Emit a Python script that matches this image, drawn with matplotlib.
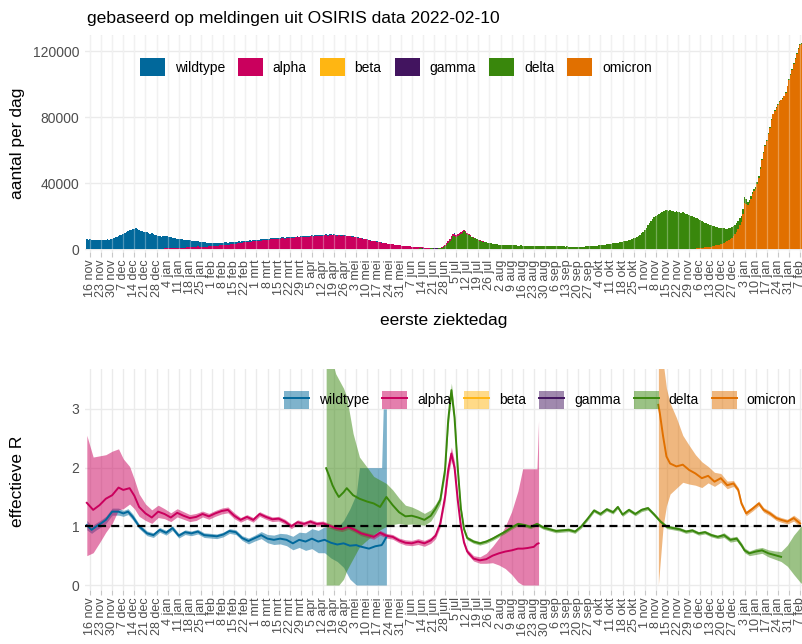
import numpy as np
import pandas as pd
import matplotlib
matplotlib.use('Agg')
import matplotlib.pyplot as plt
from matplotlib.patches import Patch
from matplotlib.lines import Line2D

plt.rcParams['font.family'] = ['Liberation Sans', 'DejaVu Sans']

#==============================================================================
# data (dag 0 = 14 nov 2020)

start = pd.Timestamp('2020-11-14')
maanden = ['jan', 'feb', 'mrt', 'apr', 'mei', 'jun', 'jul', 'aug', 'sep', 'okt', 'nov', 'dec']
varianten = ['wildtype', 'alpha', 'beta', 'gamma', 'delta', 'omicron']
kleuren = {'wildtype': '#01689b', 'alpha': '#ca005d', 'beta': '#ffb612',
           'gamma': '#42145f', 'delta': '#39870c', 'omicron': '#e17000'}

# aantal per dag (x1000), per week een rij
totaal = [
    5.9, 5.7, 5.8, 5.6, 5.5, 5.7, 5.6,
    5.4, 5.5, 5.6, 5.5, 5.7, 5.6, 5.8,
    5.7, 5.9, 6.2, 6.6, 7.1, 7.5, 7.9,
    8.2, 8.6, 9.3, 9.8, 10.4, 10.9, 11.3,
    11.6, 11.9, 12.3, 12.5, 12.1, 11.8, 11.2,
    10.7, 10.3, 10.6, 10.1, 9.7, 9.2, 9.8,
    9.1, 8.7, 8.3, 8.0, 7.6, 7.3, 7.6,
    7.8, 7.9, 7.6, 7.3, 7.0, 6.8, 6.6,
    6.5, 6.3, 6.2, 6.0, 5.8, 5.7, 5.6,
    5.5, 5.4, 5.2, 5.1, 5.0, 4.8, 4.7,
    4.6, 4.5, 4.4, 4.2, 4.1, 4.0, 3.9,
    3.8, 3.7, 3.8, 3.6, 3.7, 3.5, 3.6,
    3.7, 3.9, 3.8, 4.0, 4.1, 3.9, 4.2,
    4.1, 4.3, 4.4, 4.2, 4.5, 4.6, 4.5,
    4.7, 4.8, 4.9, 4.8, 5.0, 5.2, 5.1,
    5.3, 5.4, 5.5, 5.4, 5.7, 5.8, 5.9,
    6.0, 6.2, 6.3, 6.1, 6.4, 6.6, 6.5,
    6.7, 6.8, 6.9, 6.7, 7.0, 7.1, 6.9,
    7.1, 7.2, 7.0, 7.3, 7.4, 7.2, 7.5,
    7.6, 7.5, 7.7, 7.8, 7.6, 7.9, 8.0,
    7.8, 8.1, 8.2, 8.0, 8.3, 8.4, 8.2,
    8.5, 8.6, 8.4, 8.7, 8.8, 8.6, 8.9,
    8.8, 8.7, 8.9, 8.6, 8.5, 8.7, 8.4,
    8.3, 8.5, 8.2, 8.0, 8.1, 7.9, 7.7,
    7.6, 7.4, 7.2, 7.0, 6.9, 6.6, 6.4,
    6.2, 6.0, 5.8, 5.5, 5.3, 5.1, 4.9,
    4.8, 4.6, 4.4, 4.2, 4.0, 3.8, 3.6,
    3.5, 3.3, 3.2, 3.0, 2.9, 2.7, 2.6,
    2.5, 2.4, 2.2, 2.1, 2.0, 1.9, 1.8,
    1.7, 1.6, 1.5, 1.4, 1.3, 1.3, 1.2,
    1.1, 1.1, 1.0, 0.9, 0.9, 0.8, 0.8,
    0.7, 0.7, 0.6, 0.6, 0.6, 0.7, 0.8,
    1.1, 1.6, 2.3, 3.4, 4.8, 6.3, 7.8,
    9.0, 9.4, 8.7, 8.9, 9.8, 10.6, 11.2,
    11.4, 10.8, 9.9, 9.0, 8.2, 7.5, 7.0,
    6.5, 6.0, 5.6, 5.2, 4.9, 4.6, 4.3,
    4.0, 3.8, 3.6, 3.4, 3.2, 3.1, 2.9,
    2.8, 2.7, 2.6, 2.5, 2.5, 2.4, 2.4,
    2.3, 2.3, 2.2, 2.2, 2.3, 2.2, 2.1,
    2.1, 2.2, 2.1, 2.0, 2.1, 2.0, 2.1,
    2.0, 2.1, 2.0, 2.0, 1.9, 2.0, 1.9,
    1.9, 2.0, 1.9, 1.8, 1.9, 1.8, 1.8,
    1.7, 1.8, 1.7, 1.7, 1.6, 1.7, 1.6,
    1.6, 1.5, 1.6, 1.5, 1.5, 1.4, 1.5,
    1.4, 1.4, 1.5, 1.4, 1.4, 1.5, 1.5,
    1.6, 1.6, 1.7, 1.8, 1.8, 1.9, 2.0,
    2.1, 2.2, 2.3, 2.4, 2.5, 2.7, 2.8,
    2.9, 3.1, 3.2, 3.4, 3.5, 3.7, 3.9,
    4.1, 4.3, 4.4, 4.6, 4.9, 5.1, 5.4,
    5.7, 6.0, 6.4, 6.8, 7.3, 7.9, 8.6,
    9.5, 10.6, 11.8, 13.0, 14.3, 15.6, 16.9,
    18.0, 19.1, 20.0, 20.8, 21.5, 22.1, 22.6,
    23.0, 23.5, 23.7, 23.2, 23.4, 22.9, 23.1,
    22.7, 22.9, 22.4, 22.6, 22.1, 22.3, 21.8,
    21.5, 21.2, 20.8, 20.3, 19.9, 19.4, 18.9,
    18.5, 18.2, 17.7, 17.1, 16.6, 16.0, 15.5,
    15.1, 14.8, 14.5, 14.2, 13.9, 13.5, 13.2,
    13.0, 12.8, 12.6, 12.5, 12.4, 12.3, 12.5,
    12.7, 13.1, 13.8, 14.6, 15.5, 17.0, 18.8,
    19.8, 24.5, 31.5, 30.2, 28.4, 29.6, 32.0,
    34.5, 36.4, 37.8, 40.5, 44.0, 49.5, 54.5,
    59.0, 63.0, 66.0, 70.5, 74.0, 78.5, 82.0,
    84.0, 86.0, 88.0, 89.5, 90.5, 91.5, 93.0,
    95.0, 99.0, 103.0, 106.0, 109.0, 112.5, 115.5,
    118.5, 122.0, 124.0, 125.0, 120.5,
]

# aandeel per week (%), week k = dag 7k .. 7k+6
aandeel_alpha = [0, 0, 0, 0, 0.5, 1, 2, 5, 10, 20, 33, 48, 62, 74, 82, 86,
                 88, 90, 91, 91, 92, 93, 93, 94, 94, 94, 93, 91, 87, 80.5, 66, 47.5,
                 23, 12.5, 5.5, 2, 1, 0.5] + [0] * 27
aandeel_beta = [0] * 10 + [0.5, 1, 1, 1, 1.5, 1.5, 1.5, 1.5, 1, 1, 1, 1, 1, 1, 1, 0.5,
                           0.5, 0.5, 0.5, 0.5, 0.5] + [0] * 34
aandeel_gamma = [0] * 16 + [0.5, 0.5, 1, 1, 1, 1, 1.5, 1.5, 1.5, 1.5, 1.5, 1.5, 1.5, 1.5,
                            1.5, 1, 1, 0.5, 0.5] + [0] * 30
aandeel_delta = [0] * 24 + [0.5, 1, 2, 4, 8, 15, 30, 50, 75, 86, 94, 98, 99,
                            99.5] + [100] * 27
# aandeel omicron per dag (%) vanaf dag 378 (27 nov 2021)
omicron_start = 378
aandeel_omicron = [
    0, 0, 0.5, 0.5, 1, 1, 1.5,
    2, 2.5, 3, 4, 5, 6, 7,
    8, 9, 10, 12, 14, 16, 18,
    20, 23, 26, 30, 34, 38, 42,
    47, 52, 57, 62, 67, 72, 77,
    82, 86, 89, 91, 93, 94, 95,
    96, 96.5, 97, 97.5, 98, 98.3, 98.6,
    98.8, 99, 99, 99.2, 99.3, 99.4, 99.5,
    99.5, 99.5, 99.5, 99.5, 99.5, 99.5, 99.5,
    99.5, 99.5, 99.5, 99.5, 99.5, 99.5, 99.5,
    99.5, 99.5, 99.5, 99.5, 99.5,
]

# effectieve R per variant: dag, R, ondergrens, bovengrens
wt_dag = [0, 3, 6, 9, 12, 16, 20, 23, 26, 29, 33, 38, 42, 46, 50, 54, 58, 62, 66, 70,
          74, 78, 82, 86, 90, 94, 98, 102, 106, 110, 114, 118, 122, 126, 130, 134, 138,
          142, 146, 150, 154, 158, 162, 166, 170, 172, 178, 182, 186, 187, 189]
wt_r = [1.02, 0.94, 1.00, 1.05, 1.11, 1.25, 1.25, 1.22, 1.25, 1.16, 1.00, 0.88, 0.85,
        0.94, 0.89, 0.97, 0.84, 0.90, 0.88, 0.91, 0.85, 0.84, 0.83, 0.86, 0.92, 0.90,
        0.80, 0.75, 0.80, 0.85, 0.79, 0.77, 0.79, 0.77, 0.71, 0.77, 0.74, 0.79, 0.74,
        0.77, 0.72, 0.69, 0.71, 0.67, 0.68, 0.66, 0.62, 0.66, 0.68, 0.72, 0.82]
wt_lo = [0.94, 0.88, 0.94, 0.99, 1.05, 1.19, 1.19, 1.17, 1.20, 1.11, 0.96, 0.84, 0.81,
         0.90, 0.85, 0.93, 0.80, 0.86, 0.84, 0.87, 0.81, 0.80, 0.79, 0.82, 0.88, 0.86,
         0.76, 0.70, 0.75, 0.79, 0.72, 0.69, 0.70, 0.67, 0.60, 0.64, 0.59, 0.62, 0.55,
         0.55, 0.46, 0.40, 0.30, 0.10, 0.0, 0.0, 0.0, 0.0, 0.0, 0.0, 0.0]
wt_hi = [1.10, 1.01, 1.06, 1.11, 1.17, 1.31, 1.31, 1.27, 1.30, 1.21, 1.04, 0.92, 0.89,
         0.98, 0.93, 1.01, 0.88, 0.94, 0.92, 0.95, 0.89, 0.88, 0.87, 0.90, 0.96, 0.94,
         0.84, 0.80, 0.85, 0.91, 0.86, 0.85, 0.88, 0.87, 0.83, 0.90, 0.89, 0.96, 0.93,
         0.99, 0.98, 0.98, 1.10, 1.30, 1.55, 2.00, 2.00, 2.00, 2.00, 3.00, 3.00]

alpha_dag = [0, 4, 8, 12, 16, 20, 23, 27, 30, 33, 37, 41, 45, 49, 53, 57, 61, 65, 69, 73,
             77, 81, 85, 89, 93, 97, 101, 105, 109, 113, 117, 121, 125, 129, 133, 137, 141,
             145, 149, 153, 157, 161, 165, 169, 173, 177, 181, 185, 189, 193, 197, 201, 205,
             209, 213, 217, 220, 223, 226, 228, 230, 232, 234, 236, 238, 240, 244, 248, 252,
             256, 260, 264, 268, 272, 275, 278, 282, 284, 285]
alpha_r = [1.40, 1.28, 1.36, 1.47, 1.53, 1.66, 1.62, 1.65, 1.52, 1.33, 1.22, 1.15, 1.25,
           1.21, 1.15, 1.23, 1.18, 1.14, 1.16, 1.21, 1.17, 1.22, 1.26, 1.28, 1.18, 1.11,
           1.16, 1.11, 1.21, 1.16, 1.12, 1.13, 1.08, 1.00, 1.07, 1.04, 1.08, 1.04, 1.05,
           1.01, 0.97, 0.95, 0.99, 0.94, 0.88, 0.85, 0.82, 0.89, 0.84, 0.82, 0.76, 0.72,
           0.71, 0.74, 0.71, 0.76, 0.84, 1.05, 1.50, 1.96, 2.24, 2.00, 1.45, 1.00, 0.72,
           0.57, 0.45, 0.42, 0.44, 0.50, 0.54, 0.57, 0.59, 0.62, 0.62, 0.63, 0.65, 0.70, 0.71]
alpha_lo = [0.50, 0.55, 0.72, 0.90, 1.05, 1.28, 1.30, 1.38, 1.30, 1.17, 1.10, 1.05, 1.15,
            1.13, 1.08, 1.16, 1.12, 1.08, 1.10, 1.16, 1.12, 1.17, 1.21, 1.23, 1.13, 1.07,
            1.12, 1.07, 1.17, 1.12, 1.08, 1.09, 1.04, 0.96, 1.03, 1.00, 1.04, 1.00, 1.01,
            0.97, 0.93, 0.91, 0.95, 0.90, 0.84, 0.81, 0.78, 0.85, 0.80, 0.78, 0.72, 0.68,
            0.67, 0.69, 0.66, 0.71, 0.79, 0.99, 1.42, 1.86, 2.13, 1.90, 1.38, 0.95, 0.68,
            0.53, 0.41, 0.37, 0.37, 0.38, 0.34, 0.28, 0.18, 0.05, 0.0, 0.0, 0.0, 0.0, 0.0]
alpha_hi = [2.55, 2.18, 2.20, 2.22, 2.28, 2.32, 2.15, 2.02, 1.80, 1.55, 1.38, 1.28, 1.36,
            1.30, 1.23, 1.30, 1.25, 1.20, 1.22, 1.26, 1.22, 1.27, 1.31, 1.33, 1.23, 1.15,
            1.20, 1.15, 1.25, 1.20, 1.16, 1.17, 1.12, 1.04, 1.11, 1.08, 1.12, 1.08, 1.09,
            1.05, 1.01, 0.99, 1.03, 0.98, 0.92, 0.89, 0.86, 0.93, 0.88, 0.86, 0.80, 0.77,
            0.76, 0.79, 0.76, 0.81, 0.89, 1.12, 1.58, 2.06, 2.35, 2.10, 1.53, 1.06, 0.77,
            0.61, 0.50, 0.48, 0.54, 0.66, 0.80, 1.00, 1.25, 1.60, 1.98, 1.98, 1.98, 1.98, 2.80]

delta_dag = [151, 153, 155, 157, 159, 162, 164, 168, 172, 177, 181, 185, 189, 193, 197, 201,
             205, 209, 213, 217, 220, 223, 226, 228, 230, 232, 234, 236, 238, 240, 244, 248,
             252, 256, 260, 264, 268, 272, 276, 280, 284, 288, 292, 296, 300, 304, 308, 312,
             316, 320, 324, 328, 332, 335, 338, 342, 346, 350, 354, 358, 362, 366, 370, 374,
             378, 382, 386, 390, 394, 398, 402, 406, 410, 413, 415, 418, 422, 426, 430, 434,
             438, 442, 446, 450, 452]
delta_r = [1.99, 1.85, 1.70, 1.59, 1.50, 1.58, 1.65, 1.53, 1.47, 1.42, 1.39, 1.33, 1.50,
           1.36, 1.24, 1.17, 1.18, 1.15, 1.11, 1.18, 1.30, 1.45, 1.96, 2.81, 3.32, 2.85,
           2.00, 1.30, 0.95, 0.80, 0.74, 0.71, 0.74, 0.79, 0.85, 0.91, 0.98, 1.04, 1.02,
           0.99, 1.04, 0.98, 0.95, 0.92, 0.93, 0.94, 0.91, 1.00, 1.13, 1.27, 1.21, 1.29,
           1.24, 1.33, 1.20, 1.28, 1.21, 1.28, 1.31, 1.20, 1.08, 0.99, 0.97, 0.95, 0.91,
           0.93, 0.88, 0.90, 0.85, 0.82, 0.85, 0.77, 0.79, 0.68, 0.59, 0.54, 0.57, 0.59,
           0.54, 0.51, 0.48, np.nan, np.nan, np.nan, np.nan]
delta_lo = [0.0, 0.0, 0.0, 0.0, 0.0, 0.10, 0.25, 0.45, 0.65, 0.77, 0.86, 0.94, 1.00, 1.03,
            1.05, 1.03, 1.04, 1.03, 1.02, 1.09, 1.22, 1.38, 1.88, 2.70, 3.20, 2.75, 1.93,
            1.25, 0.91, 0.77, 0.71, 0.68, 0.71, 0.76, 0.82, 0.88, 0.95, 1.01, 0.99, 0.96,
            1.01, 0.95, 0.92, 0.89, 0.90, 0.91, 0.88, 0.97, 1.10, 1.24, 1.18, 1.26, 1.21,
            1.30, 1.17, 1.25, 1.18, 1.25, 1.28, 1.17, 1.05, 0.96, 0.94, 0.92, 0.88, 0.90,
            0.85, 0.87, 0.82, 0.79, 0.81, 0.73, 0.75, 0.64, 0.55, 0.50, 0.52, 0.54, 0.48,
            0.44, 0.40, 0.32, 0.18, 0.05, 0.0]
delta_hi = [3.80, 3.80, 3.80, 3.60, 3.50, 3.35, 3.20, 2.58, 2.18, 2.00, 1.85, 1.79, 1.73,
            1.62, 1.48, 1.36, 1.33, 1.28, 1.22, 1.28, 1.38, 1.52, 2.05, 2.92, 3.44, 2.95,
            2.07, 1.35, 0.99, 0.83, 0.77, 0.74, 0.77, 0.82, 0.88, 0.94, 1.01, 1.07, 1.05,
            1.02, 1.07, 1.01, 0.98, 0.95, 0.96, 0.97, 0.94, 1.03, 1.16, 1.30, 1.24, 1.32,
            1.27, 1.36, 1.23, 1.31, 1.24, 1.31, 1.34, 1.23, 1.11, 1.02, 1.00, 0.98, 0.94,
            0.96, 0.91, 0.93, 0.88, 0.85, 0.89, 0.81, 0.83, 0.72, 0.63, 0.58, 0.62, 0.64,
            0.60, 0.58, 0.57, 0.68, 0.85, 0.98, 1.05]

omicron_dag = [360.6, 361.5, 363.6, 365.7, 368, 372, 376, 380, 384, 388, 392, 396, 400,
               404, 408, 411, 413, 416, 420, 424, 427, 431, 435, 438, 442, 446, 450]
omicron_r = [3.07, 2.93, 2.53, 2.19, 2.07, 2.02, 2.05, 1.96, 1.90, 1.82, 1.86, 1.76, 1.82,
             1.70, 1.73, 1.62, 1.39, 1.22, 1.30, 1.39, 1.28, 1.22, 1.14, 1.11, 1.08, 1.14, 1.05]
omicron_lo = [0.0, 0.30, 1.00, 1.35, 1.55, 1.65, 1.75, 1.72, 1.70, 1.66, 1.74, 1.68, 1.75,
              1.64, 1.68, 1.58, 1.35, 1.18, 1.26, 1.35, 1.24, 1.18, 1.10, 1.07, 1.04, 1.09, 0.99]
omicron_hi = [3.80, 3.80, 3.80, 3.35, 3.10, 2.85, 2.55, 2.38, 2.22, 2.10, 2.02, 1.92, 1.90,
              1.77, 1.78, 1.66, 1.43, 1.26, 1.34, 1.43, 1.32, 1.26, 1.18, 1.15, 1.12, 1.19, 1.11]

#==============================================================================
# aantallen per variant per dag

dagen = np.arange(len(totaal))
tot = np.array(totaal) * 1000
week = dagen // 7
delen = {'alpha': np.array(aandeel_alpha)[week] / 100,
         'beta': np.array(aandeel_beta)[week] / 100,
         'gamma': np.array(aandeel_gamma)[week] / 100,
         'delta': np.array(aandeel_delta)[week] / 100}
delen['wildtype'] = np.clip(1 - delen['alpha'] - delen['beta'] - delen['gamma'] - delen['delta'], 0, 1)
omi = np.zeros(len(dagen))
omi[omicron_start:omicron_start + len(aandeel_omicron)] = np.array(aandeel_omicron) / 100
aantal = {v: tot * delen[v] * (1 - omi) for v in ['wildtype', 'alpha', 'beta', 'gamma', 'delta']}
aantal['omicron'] = tot * omi

R = {'wildtype': (wt_dag, wt_r, wt_lo, wt_hi),
     'alpha': (alpha_dag, alpha_r, alpha_lo, alpha_hi),
     'delta': (delta_dag, delta_r, delta_lo, delta_hi),
     'omicron': (omicron_dag, omicron_r, omicron_lo, omicron_hi)}

#==============================================================================
# x-as: wekelijkse ticks vanaf 16 nov 2020

tickdagen = np.arange(2, 451, 7)
ticklabels = []
for d in tickdagen:
    t = start + pd.Timedelta(days=int(d))
    ticklabels.append('%d %s' % (t.day, maanden[t.month - 1]))

W, H = 803, 644
fig = plt.figure(figsize=(W / 100, H / 100), dpi=100)
ax1 = fig.add_axes([85 / W, 1 - 252.5 / H, 718 / W, 217.5 / H])
ax2 = fig.add_axes([85 / W, 1 - 590 / H, 718 / W, 221 / H])

grijs = '#4d4d4d'
for ax in (ax1, ax2):
    ax.set_xlim(-1.15, 451.85)
    ax.set_xticks(tickdagen)
    ax.set_xticklabels(ticklabels, rotation=90, fontsize=9, color=grijs)
    ax.tick_params(axis='x', length=3.3, width=0.8, color='#c8c8c8', pad=2)
    ax.tick_params(axis='y', length=0, pad=4, labelsize=10, labelcolor=grijs)
    ax.grid(True, color='#ebebeb', lw=1.0)
    ax.set_axisbelow(True)
    for s in ax.spines.values():
        s.set_visible(False)

#==============================================================================
# bovenste figuur: gestapelde staven

onder = np.zeros(len(dagen))
for v in ['omicron', 'delta', 'gamma', 'beta', 'alpha', 'wildtype']:
    ax1.bar(dagen, aantal[v], width=1.0, bottom=onder, color=kleuren[v], lw=0, zorder=2)
    onder = onder + aantal[v]
# lichte strepen van het raster door de staven heen
ax1.vlines(tickdagen, 0, 130000, color='white', lw=0.9, alpha=0.3, zorder=2.5)
ax1.set_ylim(-2121, 129700)
ax1.set_yticks([0, 40000, 80000, 120000])
ax1.set_yticklabels(['0', '40000', '80000', '120000'])

hnd = [Patch(facecolor=kleuren[v], edgecolor='none') for v in varianten]
ax1.legend(hnd, varianten, ncol=6, loc='center', bbox_to_anchor=(0.433, 0.853),
           frameon=False, fontsize=10, handlelength=1.8, handleheight=1.65,
           handletextpad=0.7, columnspacing=0.95)

#==============================================================================
# onderste figuur: effectieve R

for v in ['wildtype', 'alpha', 'delta', 'omicron']:
    d, r, lo, hi = R[v]
    ax2.fill_between(d, lo, hi, color=kleuren[v], alpha=0.5, lw=0, zorder=2)
for v in ['wildtype', 'alpha', 'delta', 'omicron']:
    d, r, lo, hi = R[v]
    ax2.plot(d, r, color=kleuren[v], lw=1.4, zorder=3)
ax2.axhline(1, color='black', lw=1.6, dashes=(3.6, 2.3), zorder=4)
ax2.set_ylim(-0.085, 3.68)
ax2.set_yticks([0, 1, 2, 3])

hnd2 = [(Patch(facecolor=kleuren[v], alpha=0.5, edgecolor='none'),
         Line2D([], [], color=kleuren[v], lw=1.4)) for v in varianten]
ax2.legend(hnd2, varianten, ncol=6, loc='center', bbox_to_anchor=(0.634, 0.86),
           frameon=False, fontsize=10, handlelength=1.8, handleheight=1.65,
           handletextpad=0.7, columnspacing=0.95)

#==============================================================================
# teksten

fig.text(87 / W, 1 - 23 / H, 'gebaseerd op meldingen uit OSIRIS data 2022-02-10',
         fontsize=12.6, va='baseline', ha='left')
fig.text(444 / W, 1 - 321 / H, 'eerste ziektedag', fontsize=12.5, ha='center', va='center')
fig.text(18 / W, 1 - 143.75 / H, 'aantal per dag', fontsize=12.5, rotation=90,
         ha='center', va='center')
fig.text(18 / W, 1 - 481 / H, 'effectieve R', fontsize=12.5, rotation=90,
         ha='center', va='center')

fig.savefig('out.png', dpi=100)
